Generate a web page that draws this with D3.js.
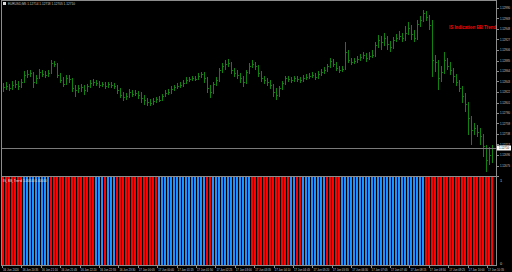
<!DOCTYPE html>
<html><head><meta charset="utf-8">
<script src="https://cdn.jsdelivr.net/npm/d3@7"></script>
<style>html,body{margin:0;padding:0;background:#000;}svg{display:block;}</style>
</head><body>
<script>
// ---- data (EURUSD M5) ----
const closes = [1.12832,1.12834,1.12830,1.12836,1.12838,1.12834,1.12842,1.12856,1.12858,1.12860,1.12842,1.12850,1.12862,1.12858,1.12856,1.12860,1.12880,1.12878,1.12856,1.12846,1.12838,1.12850,1.12848,1.12830,1.12826,1.12830,1.12832,1.12826,1.12834,1.12840,1.12842,1.12840,1.12836,1.12838,1.12834,1.12838,1.12836,1.12834,1.12826,1.12816,1.12812,1.12814,1.12822,1.12818,1.12820,1.12816,1.12810,1.12806,1.12802,1.12800,1.12804,1.12808,1.12806,1.12814,1.12820,1.12822,1.12828,1.12832,1.12834,1.12836,1.12840,1.12846,1.12848,1.12850,1.12848,1.12854,1.12858,1.12850,1.12830,1.12822,1.12838,1.12846,1.12866,1.12874,1.12878,1.12880,1.12866,1.12860,1.12856,1.12850,1.12842,1.12862,1.12874,1.12878,1.12874,1.12860,1.12850,1.12846,1.12842,1.12836,1.12822,1.12816,1.12830,1.12840,1.12850,1.12848,1.12846,1.12850,1.12848,1.12846,1.12850,1.12852,1.12854,1.12856,1.12852,1.12858,1.12862,1.12866,1.12874,1.12884,1.12878,1.12870,1.12866,1.12868,1.12902,1.12886,1.12882,1.12884,1.12888,1.12892,1.12896,1.12890,1.12894,1.12896,1.12916,1.12926,1.12922,1.12930,1.12918,1.12912,1.12926,1.12930,1.12934,1.12930,1.12940,1.12950,1.12938,1.12930,1.12958,1.12966,1.12980,1.12972,1.12956,1.12886,1.12882,1.12850,1.12862,1.12886,1.12874,1.12866,1.12854,1.12842,1.12830,1.12814,1.12798,1.12770,1.12746,1.12750,1.12742,1.12734,1.12714,1.12686,1.12696,1.12710];
const opens = [1.12828,1.12832,1.12834,1.12830,1.12836,1.12838,1.12834,1.12842,1.12856,1.12858,1.12860,1.12842,1.12850,1.12862,1.12858,1.12856,1.12860,1.12880,1.12878,1.12856,1.12846,1.12838,1.12850,1.12848,1.12830,1.12826,1.12830,1.12832,1.12826,1.12834,1.12840,1.12842,1.12840,1.12836,1.12838,1.12834,1.12838,1.12836,1.12834,1.12826,1.12816,1.12812,1.12814,1.12822,1.12818,1.12820,1.12816,1.12810,1.12806,1.12802,1.12800,1.12804,1.12808,1.12806,1.12814,1.12820,1.12822,1.12828,1.12832,1.12834,1.12836,1.12840,1.12846,1.12848,1.12850,1.12848,1.12854,1.12858,1.12850,1.12830,1.12822,1.12838,1.12846,1.12866,1.12874,1.12878,1.12880,1.12866,1.12860,1.12856,1.12850,1.12842,1.12862,1.12874,1.12878,1.12874,1.12860,1.12850,1.12846,1.12842,1.12836,1.12822,1.12816,1.12830,1.12840,1.12850,1.12848,1.12846,1.12850,1.12848,1.12846,1.12850,1.12852,1.12854,1.12856,1.12852,1.12858,1.12862,1.12866,1.12874,1.12884,1.12878,1.12870,1.12866,1.12868,1.12902,1.12886,1.12882,1.12884,1.12888,1.12892,1.12896,1.12890,1.12894,1.12896,1.12916,1.12926,1.12922,1.12930,1.12918,1.12912,1.12926,1.12930,1.12934,1.12930,1.12940,1.12950,1.12938,1.12930,1.12958,1.12966,1.12980,1.12972,1.12956,1.12886,1.12882,1.12850,1.12862,1.12886,1.12874,1.12866,1.12854,1.12842,1.12830,1.12814,1.12798,1.12770,1.12746,1.12750,1.12742,1.12734,1.12714,1.12686,1.12696];
const highs = [1.12840,1.12842,1.12838,1.12844,1.12846,1.12844,1.12848,1.12864,1.12866,1.12866,1.12862,1.12856,1.12868,1.12866,1.12864,1.12866,1.12886,1.12884,1.12880,1.12860,1.12852,1.12856,1.12856,1.12850,1.12836,1.12836,1.12838,1.12836,1.12838,1.12846,1.12848,1.12846,1.12844,1.12842,1.12842,1.12842,1.12842,1.12840,1.12836,1.12830,1.12822,1.12820,1.12828,1.12826,1.12826,1.12824,1.12822,1.12816,1.12810,1.12808,1.12810,1.12812,1.12814,1.12818,1.12826,1.12828,1.12834,1.12836,1.12840,1.12842,1.12846,1.12852,1.12852,1.12854,1.12854,1.12860,1.12862,1.12862,1.12852,1.12836,1.12842,1.12852,1.12870,1.12880,1.12886,1.12888,1.12882,1.12870,1.12866,1.12860,1.12854,1.12866,1.12880,1.12886,1.12882,1.12876,1.12864,1.12854,1.12850,1.12846,1.12838,1.12830,1.12834,1.12844,1.12854,1.12854,1.12852,1.12854,1.12854,1.12852,1.12856,1.12858,1.12860,1.12862,1.12860,1.12864,1.12868,1.12872,1.12878,1.12890,1.12888,1.12882,1.12874,1.12874,1.12922,1.12906,1.12890,1.12890,1.12894,1.12898,1.12902,1.12900,1.12902,1.12906,1.12922,1.12936,1.12934,1.12940,1.12934,1.12924,1.12932,1.12938,1.12944,1.12940,1.12954,1.12962,1.12956,1.12946,1.12966,1.12974,1.12986,1.12984,1.12976,1.12966,1.12896,1.12886,1.12874,1.12902,1.12890,1.12882,1.12870,1.12858,1.12846,1.12834,1.12820,1.12802,1.12774,1.12760,1.12756,1.12750,1.12738,1.12716,1.12712,1.12716];
const lows = [1.12822,1.12826,1.12824,1.12826,1.12830,1.12826,1.12830,1.12840,1.12850,1.12852,1.12830,1.12838,1.12848,1.12852,1.12850,1.12852,1.12858,1.12872,1.12850,1.12840,1.12832,1.12836,1.12840,1.12822,1.12812,1.12820,1.12822,1.12816,1.12822,1.12830,1.12834,1.12834,1.12830,1.12832,1.12828,1.12830,1.12830,1.12828,1.12818,1.12810,1.12804,1.12806,1.12810,1.12812,1.12814,1.12808,1.12800,1.12796,1.12794,1.12794,1.12796,1.12800,1.12802,1.12804,1.12812,1.12816,1.12818,1.12824,1.12828,1.12830,1.12832,1.12838,1.12842,1.12844,1.12844,1.12846,1.12850,1.12840,1.12820,1.12810,1.12818,1.12834,1.12842,1.12860,1.12866,1.12872,1.12858,1.12852,1.12848,1.12840,1.12832,1.12838,1.12858,1.12870,1.12866,1.12852,1.12842,1.12838,1.12834,1.12828,1.12812,1.12806,1.12812,1.12826,1.12836,1.12842,1.12840,1.12842,1.12842,1.12840,1.12842,1.12846,1.12848,1.12850,1.12846,1.12848,1.12854,1.12858,1.12862,1.12870,1.12872,1.12864,1.12860,1.12862,1.12866,1.12880,1.12876,1.12878,1.12880,1.12884,1.12888,1.12882,1.12886,1.12890,1.12892,1.12910,1.12906,1.12914,1.12906,1.12902,1.12908,1.12922,1.12926,1.12922,1.12924,1.12936,1.12926,1.12922,1.12926,1.12952,1.12962,1.12964,1.12946,1.12852,1.12862,1.12826,1.12842,1.12858,1.12866,1.12856,1.12840,1.12834,1.12822,1.12800,1.12782,1.12736,1.12716,1.12736,1.12732,1.12716,1.12692,1.12662,1.12676,1.12680];
// BB trend direction per bar: 1 = up (blue), -1 = down (red)
const bbTrend = [-1,-1,-1,-1,-1,-1,-1,
 1,1,1,1,1,1,1,1,1,
 -1,-1,-1,-1,-1,-1,-1,-1,-1,-1,-1,-1,-1,-1,-1,
 1,1,1,
 -1,
 1,1,1,
 -1,-1,-1,-1,-1,-1,-1,-1,-1,-1,-1,-1,-1,-1,
 1,1,1,1,1,1,1,1,1,1,1,1,1,1,1,1,
 -1,-1,
 1,1,1,1,1,1,1,1,1,1,1,1,1,
 -1,-1,-1,-1,-1,-1,-1,-1,-1,-1,-1,-1,-1,
 1,1,
 -1,-1,
 1,1,1,1,1,1,1,1,
 -1,-1,-1,-1,-1,
 1,1,1,1,1,1,1,1,1,1,1,1,1,1,1,1,1,1,1,1,1,1,1,1,1,1,1,1,
 -1,-1,-1,-1,-1,-1,-1,-1,-1,-1,-1,-1,-1,-1,-1,-1,-1,-1,-1,-1,-1,-1,-1];
const priceTicks = [1.12990,1.12969,1.12948,1.12927,1.12906,1.12885,1.12864,1.12843,1.12822,1.12801,1.12780,1.12759,1.12738,1.12717,1.12696,1.12675,1.12654];
const timeLabels = ["16 Jun 2020","16 Jun 20:35","16 Jun 21:10","16 Jun 21:45","16 Jun 22:20","16 Jun 22:55","16 Jun 23:30","17 Jun 00:05","17 Jun 00:40","17 Jun 01:15","17 Jun 01:50","17 Jun 02:25","17 Jun 03:00","17 Jun 03:35","17 Jun 04:10","17 Jun 04:45","17 Jun 05:20","17 Jun 05:55","17 Jun 06:30","17 Jun 07:05","17 Jun 07:40","17 Jun 08:15","17 Jun 08:50","17 Jun 09:25","17 Jun 10:00","17 Jun 10:35"];
const lastPrice = 1.12710;
const symbolTitle = "EURUSD,M5  1.12714 1.12718 1.12705 1.12710";
const indicatorTitle = "IS_BB_Trend 1.00000 0.00000";
const chartNote = "IS Indication BB Trend";
const indTicks = ["1","0"];

// ---- drawing ----
const W = 512, H = 272;
const N = closes.length;
const svg = d3.select("body").append("svg").attr("width", W).attr("height", H)
  .style("font-family", "'Liberation Sans', Arial, sans-serif");
svg.append("rect").attr("width", W).attr("height", H).attr("fill", "#000");

const x = d3.scaleLinear().domain([0, N - 1]).range([3, 492]);
const yP = d3.scaleLinear().domain([1.12656, 1.13000]).range([175, 3]);
const yI = d3.scaleLinear().domain([0, 1]).range([265, 177]);
const tx = d3.scaleLinear().domain([0, timeLabels.length - 1]).range([2, 487]);

const frame = "#8c8c8c";

// squeeze a text horizontally to a target width (keeps it real text)
function squeeze(sel, width) {
  sel.each(function () {
    const t = d3.select(this);
    const px = +t.attr("data-x"), py = +t.attr("data-y");
    const w = this.getComputedTextLength() || 1;
    t.attr("x", 0).attr("y", 0)
     .attr("transform", `translate(${px},${py}) scale(${width / w},1)`);
  });
}

// indicator histogram
svg.append("g").selectAll("rect").data(bbTrend).join("rect")
  .attr("x", (d, i) => Math.round(x(i)) - 1)
  .attr("width", 2)
  .attr("y", yI(1))
  .attr("height", yI(0) - yI(1))
  .attr("fill", d => d > 0 ? "#1e90ff" : "#ff0000")
  .attr("shape-rendering", "crispEdges");

// price bars (OHLC)
const gBars = svg.append("g").attr("stroke", "#118211").attr("stroke-width", 1)
  .attr("shape-rendering", "crispEdges").attr("fill", "none");
gBars.selectAll("path").data(closes).join("path")
  .attr("d", (c, i) => {
    const xi = Math.round(x(i)) + 0.5;
    const yc = Math.round(yP(c)) + 0.5;
    return `M${xi},${yP(highs[i])}V${yP(lows[i])}M${xi},${yc}h1`;
  });

// current price line
svg.append("line").attr("x1", 2).attr("x2", 497)
  .attr("y1", Math.round(yP(lastPrice)) + 0.5).attr("y2", Math.round(yP(lastPrice)) + 0.5)
  .attr("stroke", "#7a7a7a").attr("stroke-width", 1).attr("shape-rendering", "crispEdges");

// frame lines
const lines = [
  [1, 0.5, 497, 0.5], [1.5, 0, 1.5, 266], [496.5, 0, 496.5, 266],
  [1, 176.5, 497, 176.5], [1, 265.5, 497, 265.5]
];
svg.append("g").selectAll("line").data(lines).join("line")
  .attr("x1", d => d[0]).attr("y1", d => d[1]).attr("x2", d => d[2]).attr("y2", d => d[3])
  .attr("stroke", frame).attr("stroke-width", 1).attr("shape-rendering", "crispEdges");

// price axis
const ga = svg.append("g");
ga.selectAll("line").data(priceTicks).join("line")
  .attr("x1", 497).attr("x2", 499)
  .attr("y1", d => Math.round(yP(d)) + 0.5).attr("y2", d => Math.round(yP(d)) + 0.5)
  .attr("stroke", frame).attr("shape-rendering", "crispEdges");
ga.selectAll("text").data(priceTicks.filter(d => yP(d) < 174)).join("text")
  .attr("data-x", 500).attr("data-y", d => yP(d) + 1.4)
  .attr("font-size", 3.8).attr("fill", "#c8c8c8")
  .text(d => d.toFixed(5))
  .call(squeeze, 10);

// last price box
const ly = yP(lastPrice);
svg.append("rect").attr("x", 497).attr("y", ly - 2.5).attr("width", 14).attr("height", 5)
  .attr("fill", "#ffffff");
svg.append("text").attr("data-x", 499).attr("data-y", ly + 1.4).attr("font-size", 3.8)
  .attr("fill", "#000").text(lastPrice.toFixed(5)).call(squeeze, 10);

// indicator axis labels
svg.append("g").selectAll("text").data(indTicks).join("text")
  .attr("x", 500).attr("y", (d, i) => i === 0 ? yI(1) + 4.6 : yI(0) + 0.3)
  .attr("font-size", 3.8).attr("fill", "#c8c8c8").text(d => d);

// time axis
svg.append("g").selectAll("text").data(timeLabels).join("text")
  .attr("data-x", (d, i) => tx(i) + 1).attr("data-y", 270.6)
  .attr("font-size", 3.8).attr("fill", "#c8c8c8")
  .text(d => d)
  .call(squeeze, 16);
svg.append("g").selectAll("line").data(timeLabels).join("line")
  .attr("x1", (d, i) => Math.round(tx(i)) + 0.5).attr("x2", (d, i) => Math.round(tx(i)) + 0.5)
  .attr("y1", 266).attr("y2", 268)
  .attr("stroke", frame).attr("shape-rendering", "crispEdges");

// titles
svg.append("rect").attr("x", 3).attr("y", 2).attr("width", 3).attr("height", 3).attr("fill", "#dcdcdc");
svg.append("text").attr("data-x", 8).attr("data-y", 5.2).attr("font-size", 3.8).attr("fill", "#c8c8c8")
  .text(symbolTitle).call(squeeze, 67);
svg.append("text").attr("data-x", 3).attr("data-y", 181.8).attr("font-size", 3.8).attr("fill", "#e6e6e6")
  .text(indicatorTitle).call(squeeze, 44);
svg.append("text").attr("data-x", 449).attr("data-y", 29).attr("font-size", 4.6).attr("font-weight", "bold")
  .attr("fill", "#ff0000").text(chartNote).call(squeeze, 47);
</script>
</body></html>
